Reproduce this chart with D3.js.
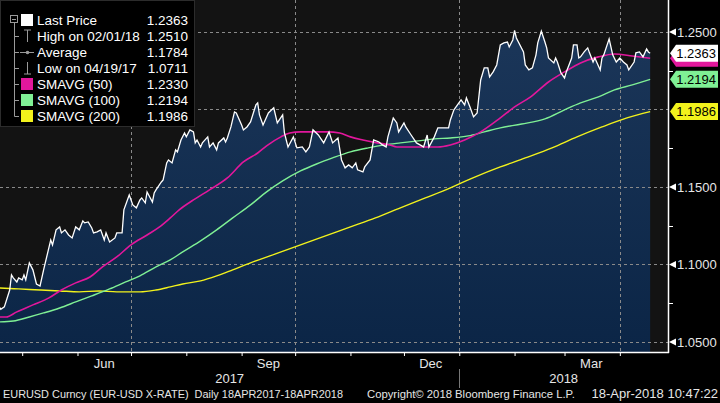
<!DOCTYPE html>
<html>
<head>
<meta charset="utf-8">
<script src="https://cdnjs.cloudflare.com/ajax/libs/d3/7.8.5/d3.min.js"></script>
<style>
  html, body { margin: 0; padding: 0; background: #000; }
  svg { display: block; font-family: "Liberation Sans", Arial, sans-serif; }
</style>
</head>
<body>
<svg id="chart" width="720" height="403"></svg>
<script>
// EURUSD daily closes
const lastPrice = [
  ["2017-04-18",1.0730],["2017-04-19",1.0711],["2017-04-21",1.0726],["2017-04-24",1.0835],["2017-04-25",1.0932],
  ["2017-04-26",1.0913],["2017-04-28",1.0887],["2017-04-29",1.0913],["2017-05-01",1.0900],["2017-05-02",1.0932],
  ["2017-05-03",1.0900],["2017-05-05",1.1010],["2017-05-07",1.0965],["2017-05-09",1.0874],["2017-05-11",1.0861],
  ["2017-05-13",1.0965],["2017-05-17",1.1158],["2017-05-18",1.1126],["2017-05-20",1.1223],["2017-05-22",1.1242],
  ["2017-05-23",1.1203],["2017-05-25",1.1223],["2017-05-27",1.1190],["2017-05-29",1.1171],["2017-05-31",1.1242],
  ["2017-06-02",1.1223],["2017-06-04",1.1281],["2017-06-05",1.1268],["2017-06-07",1.1274],["2017-06-09",1.1235],
  ["2017-06-10",1.1203],["2017-06-12",1.1210],["2017-06-14",1.1223],["2017-06-16",1.1158],["2017-06-17",1.1203],
  ["2017-06-19",1.1145],["2017-06-22",1.1171],["2017-06-23",1.1203],["2017-06-26",1.1203],["2017-06-27",1.1352],
  ["2017-06-30",1.1448],["2017-07-02",1.1384],["2017-07-04",1.1365],["2017-07-06",1.1416],["2017-07-07",1.1429],
  ["2017-07-09",1.1397],["2017-07-10",1.1468],["2017-07-13",1.1403],["2017-07-14",1.1461],["2017-07-15",1.1481],
  ["2017-07-18",1.1532],["2017-07-19",1.1545],["2017-07-21",1.1655],["2017-07-22",1.1674],["2017-07-24",1.1655],
  ["2017-07-26",1.1739],["2017-07-27",1.1726],["2017-07-29",1.1803],["2017-07-31",1.1848],["2017-08-01",1.1823],
  ["2017-08-03",1.1868],["2017-08-05",1.1855],["2017-08-06",1.1784],["2017-08-07",1.1803],["2017-08-09",1.1758],
  ["2017-08-10",1.1784],["2017-08-13",1.1823],["2017-08-14",1.1758],["2017-08-16",1.1784],["2017-08-18",1.1739],
  ["2017-08-19",1.1784],["2017-08-22",1.1816],["2017-08-23",1.1790],["2017-08-24",1.1816],["2017-08-26",1.1887],
  ["2017-08-28",1.1984],["2017-08-29",1.1977],["2017-09-01",1.1900],["2017-09-02",1.1868],["2017-09-04",1.1887],
  ["2017-09-06",1.1919],["2017-09-09",1.2029],["2017-09-10",1.2042],["2017-09-11",1.1965],["2017-09-13",1.1900],
  ["2017-09-16",1.1977],["2017-09-19",1.2010],["2017-09-21",1.1913],["2017-09-24",1.1965],["2017-09-25",1.1848],
  ["2017-09-27",1.1758],["2017-09-30",1.1823],["2017-10-02",1.1752],["2017-10-05",1.1758],["2017-10-07",1.1726],
  ["2017-10-09",1.1758],["2017-10-11",1.1868],["2017-10-14",1.1835],["2017-10-17",1.1784],["2017-10-20",1.1855],
  ["2017-10-22",1.1784],["2017-10-25",1.1816],["2017-10-27",1.1674],["2017-10-29",1.1623],["2017-10-31",1.1642],
  ["2017-11-02",1.1623],["2017-11-04",1.1655],["2017-11-05",1.1610],["2017-11-08",1.1597],["2017-11-09",1.1629],
  ["2017-11-12",1.1674],["2017-11-14",1.1803],["2017-11-17",1.1790],["2017-11-19",1.1771],["2017-11-21",1.1758],
  ["2017-11-22",1.1823],["2017-11-25",1.1945],["2017-11-27",1.1913],["2017-11-28",1.1855],["2017-12-01",1.1913],
  ["2017-12-02",1.1887],["2017-12-05",1.1835],["2017-12-08",1.1784],["2017-12-10",1.1771],["2017-12-12",1.1758],
  ["2017-12-14",1.1835],["2017-12-15",1.1758],["2017-12-18",1.1823],["2017-12-20",1.1881],["2017-12-23",1.1881],
  ["2017-12-26",1.1881],["2017-12-27",1.1932],["2017-12-29",1.1997],["2017-12-31",1.2029],["2018-01-02",1.2061],
  ["2018-01-04",1.2029],["2018-01-05",1.2074],["2018-01-07",1.2016],["2018-01-09",1.1952],["2018-01-11",1.1977],
  ["2018-01-13",1.2190],["2018-01-15",1.2268],["2018-01-17",1.2268],["2018-01-18",1.2210],["2018-01-20",1.2242],
  ["2018-01-22",1.2287],["2018-01-24",1.2416],["2018-01-26",1.2429],["2018-01-28",1.2435],["2018-01-29",1.2403],
  ["2018-01-31",1.2448],["2018-02-01",1.2510],["2018-02-02",1.2461],["2018-02-06",1.2371],["2018-02-07",1.2287],
  ["2018-02-09",1.2255],["2018-02-11",1.2268],["2018-02-13",1.2352],["2018-02-14",1.2429],["2018-02-16",1.2505],
  ["2018-02-18",1.2435],["2018-02-19",1.2397],["2018-02-20",1.2332],["2018-02-23",1.2300],["2018-02-24",1.2332],
  ["2018-02-25",1.2306],["2018-02-27",1.2235],["2018-03-01",1.2203],["2018-03-02",1.2242],["2018-03-05",1.2332],
  ["2018-03-06",1.2416],["2018-03-08",1.2416],["2018-03-09",1.2332],["2018-03-10",1.2339],["2018-03-12",1.2371],
  ["2018-03-14",1.2397],["2018-03-15",1.2365],["2018-03-17",1.2306],["2018-03-18",1.2332],["2018-03-19",1.2306],
  ["2018-03-21",1.2255],["2018-03-22",1.2332],["2018-03-23",1.2352],["2018-03-26",1.2455],["2018-03-28",1.2352],
  ["2018-03-30",1.2306],["2018-04-01",1.2332],["2018-04-03",1.2306],["2018-04-05",1.2287],["2018-04-06",1.2255],
  ["2018-04-09",1.2306],["2018-04-10",1.2365],["2018-04-12",1.2371],["2018-04-14",1.2339],["2018-04-16",1.2390],
  ["2018-04-17",1.2371],["2018-04-18",1.2363]
];

const smavg50 = [
  ["2017-04-18",1.0661],["2017-04-22",1.0661],["2017-04-28",1.0694],["2017-05-07",1.0739],["2017-05-16",1.0784],
  ["2017-05-23",1.0835],["2017-05-31",1.0881],["2017-06-08",1.0919],["2017-06-15",1.0984],["2017-06-23",1.1048],
  ["2017-07-01",1.1126],["2017-07-10",1.1190],["2017-07-17",1.1242],["2017-07-23",1.1300],["2017-07-28",1.1352],
  ["2017-08-05",1.1416],["2017-08-14",1.1481],["2017-08-24",1.1558],["2017-09-02",1.1661],["2017-09-10",1.1719],
  ["2017-09-15",1.1765],["2017-09-23",1.1823],["2017-09-28",1.1848],["2017-10-04",1.1855],["2017-10-19",1.1855],
  ["2017-10-26",1.1848],["2017-11-01",1.1823],["2017-11-08",1.1803],["2017-11-16",1.1784],["2017-11-23",1.1771],
  ["2017-11-27",1.1758],["2017-12-09",1.1758],["2017-12-20",1.1758],["2017-12-27",1.1771],["2018-01-04",1.1803],
  ["2018-01-13",1.1855],["2018-01-24",1.1945],["2018-02-01",1.2016],["2018-02-10",1.2081],["2018-02-20",1.2177],
  ["2018-03-01",1.2242],["2018-03-10",1.2300],["2018-03-20",1.2339],["2018-03-29",1.2358],["2018-04-08",1.2345],
  ["2018-04-18",1.2330]
];

const smavg100 = [
  ["2017-04-18",1.0629],["2017-04-26",1.0635],["2017-05-05",1.0661],["2017-05-13",1.0687],["2017-05-22",1.0719],
  ["2017-05-31",1.0758],["2017-06-09",1.0797],["2017-06-19",1.0842],["2017-06-28",1.0887],["2017-07-06",1.0926],
  ["2017-07-15",1.0984],["2017-07-23",1.1029],["2017-07-30",1.1081],["2017-08-09",1.1152],["2017-08-18",1.1223],
  ["2017-08-27",1.1300],["2017-09-06",1.1384],["2017-09-15",1.1468],["2017-09-24",1.1539],["2017-10-04",1.1603],
  ["2017-10-13",1.1648],["2017-10-22",1.1687],["2017-11-01",1.1726],["2017-11-11",1.1752],["2017-11-20",1.1771],
  ["2017-11-29",1.1784],["2017-12-09",1.1797],["2017-12-18",1.1810],["2017-12-27",1.1816],["2018-01-06",1.1829],
  ["2018-01-15",1.1855],["2018-01-24",1.1881],["2018-02-05",1.1906],["2018-02-18",1.1939],["2018-03-01",1.1997],
  ["2018-03-10",1.2042],["2018-03-20",1.2081],["2018-03-29",1.2126],["2018-04-08",1.2158],["2018-04-18",1.2194]
];

const smavg200 = [
  ["2017-04-18",1.0848],["2017-04-29",1.0842],["2017-05-11",1.0835],["2017-05-22",1.0829],["2017-06-02",1.0823],
  ["2017-06-13",1.0829],["2017-06-23",1.0823],["2017-07-06",1.0823],["2017-07-15",1.0835],["2017-07-23",1.0855],
  ["2017-07-30",1.0874],["2017-08-09",1.0894],["2017-08-18",1.0926],["2017-08-27",1.0965],["2017-09-06",1.1010],
  ["2017-09-20",1.1068],["2017-10-04",1.1126],["2017-10-18",1.1184],["2017-11-01",1.1242],["2017-11-15",1.1300],
  ["2017-11-29",1.1365],["2017-12-13",1.1429],["2017-12-27",1.1494],["2018-01-10",1.1565],["2018-01-24",1.1629],
  ["2018-02-07",1.1687],["2018-02-22",1.1752],["2018-03-08",1.1823],["2018-03-22",1.1887],["2018-04-05",1.1945],
  ["2018-04-18",1.1986]
];

const gridValues = [1.05, 1.10, 1.15, 1.20, 1.25];
const labelValues = [1.05, 1.10, 1.15, 1.25];
const minorValues = [1.075, 1.125, 1.175, 1.225];
const gridMonths = ["2017-07-01", "2017-10-01", "2018-01-01", "2018-04-01"];
const monthLabels = [["Jun", "2017-06-16"], ["Sep", "2017-09-16"], ["Dec", "2017-12-16"], ["Mar", "2018-03-16"]];
const yearLabels = ["2017", "2018"];

const legendLabels = ["Last Price", "High on 02/01/18", "Average", "Low on 04/19/17", "SMAVG (50)", "SMAVG (100)", "SMAVG (200)"];
const legendValues = ["1.2363", "1.2510", "1.1784", "1.0711", "1.2330", "1.2194", "1.1986"];
const footerLeft = "EURUSD Curncy (EUR-USD X-RATE)  Daily 18APR2017-18APR2018";
const footerMid = "Copyright\u00A9 2018 Bloomberg Finance L.P.";
const footerRight = "18-Apr-2018 10:47:22";

const colors = { price: "#ffffff", s50: "#e2179c", s100: "#7ff095", s200: "#f2f21c" };

const parse = d3.timeParse("%Y-%m-%d");
const toPts = arr => arr.map(d => ({ date: parse(d[0]), value: d[1] }));
const price = toPts(lastPrice), ma50 = toPts(smavg50), ma100 = toPts(smavg100), ma200 = toPts(smavg200);

const W = 668, H = 352;
const svg = d3.select("#chart");

const x = d3.scaleTime().domain([parse("2017-04-18"), parse("2018-04-28")]).range([-1, W]);
const y = d3.scaleLinear().domain([1.0435, 1.2706]).range([H, 0]);

// gradient for the price area
const defs = svg.append("defs");
const grad = defs.append("linearGradient").attr("id", "fillGrad")
  .attr("x1", 0).attr("y1", 0).attr("x2", 0).attr("y2", 1);
grad.append("stop").attr("offset", "0%").attr("stop-color", "#1b3659");
grad.append("stop").attr("offset", "100%").attr("stop-color", "#0b2546");
defs.append("clipPath").attr("id", "plotClip").append("rect").attr("width", W).attr("height", H);

// plot background
svg.append("rect").attr("width", W).attr("height", H).attr("fill", "#131313");

const plot = svg.append("g").attr("clip-path", "url(#plotClip)");

const area = d3.area().x(d => x(d.date)).y0(H).y1(d => y(d.value));
plot.append("path").datum(price).attr("d", area).attr("fill", "url(#fillGrad)");

// dashed grid
plot.selectAll(".hgrid").data(gridValues).join("line")
  .attr("x1", 0).attr("x2", W)
  .attr("y1", d => Math.round(y(d)) + 0.5).attr("y2", d => Math.round(y(d)) + 0.5)
  .attr("stroke", "#8a8a8a").attr("stroke-width", 1).attr("stroke-dasharray", "3,3");
plot.selectAll(".vgrid").data(gridMonths).join("line")
  .attr("x1", d => Math.round(x(parse(d))) + 0.5).attr("x2", d => Math.round(x(parse(d))) + 0.5)
  .attr("y1", 0).attr("y2", H)
  .attr("stroke", "#8a8a8a").attr("stroke-width", 1).attr("stroke-dasharray", "3,3");

const smooth = d3.line().x(d => x(d.date)).y(d => y(d.value)).curve(d3.curveMonotoneX);
const straight = d3.line().x(d => x(d.date)).y(d => y(d.value));

plot.append("path").datum(ma200).attr("d", smooth).attr("fill", "none").attr("stroke", colors.s200).attr("stroke-width", 1.4);
plot.append("path").datum(ma100).attr("d", smooth).attr("fill", "none").attr("stroke", colors.s100).attr("stroke-width", 1.4);
plot.append("path").datum(ma50).attr("d", smooth).attr("fill", "none").attr("stroke", colors.s50).attr("stroke-width", 1.6);
plot.append("path").datum(price).attr("d", straight).attr("fill", "none").attr("stroke", colors.price).attr("stroke-width", 1.3);

// legend
const lg = svg.append("g");
lg.append("rect").attr("x", 0.5).attr("y", 0.5).attr("width", 194).attr("height", 126)
  .attr("fill", "#000").attr("stroke", "#2c2c2c");
const rowY = i => 20 + i * 16;
const treeC = "#9a9a9a";
lg.append("rect").attr("x", 10.5).attr("y", 15.5).attr("width", 7).attr("height", 7)
  .attr("fill", "none").attr("stroke", treeC);
lg.append("line").attr("x1", 12).attr("x2", 16).attr("y1", 19.5).attr("y2", 19.5).attr("stroke", treeC);
lg.append("line").attr("x1", 14.5).attr("x2", 14.5).attr("y1", 23).attr("y2", rowY(6) + 0.5).attr("stroke", treeC);
lg.selectAll(".conn").data(d3.range(1, 7)).join("line")
  .attr("x1", 14.5).attr("x2", 19).attr("y1", d => rowY(d) + 0.5).attr("y2", d => rowY(d) + 0.5)
  .attr("stroke", treeC);

const swatchColors = [colors.price, null, null, null, colors.s50, colors.s100, colors.s200];
lg.selectAll(".sw").data(swatchColors.map((c, i) => ({ c, i })).filter(d => d.c)).join("rect")
  .attr("x", 21).attr("y", d => rowY(d.i) - 6).attr("width", 12).attr("height", 12).attr("fill", d => d.c);

// high / average / low markers
lg.append("path").attr("d", `M24,${rowY(1) - 6}H31M27.5,${rowY(1) - 6}V${rowY(1) + 6}`).attr("stroke", treeC).attr("fill", "none");
lg.append("path").attr("d", `M20,${rowY(2) + 0.5}H34`).attr("stroke", treeC);
lg.append("circle").attr("cx", 27.5).attr("cy", rowY(2) + 0.5).attr("r", 1.8).attr("fill", treeC);
lg.append("path").attr("d", `M24,${rowY(3) + 6}H31M27.5,${rowY(3) - 6}V${rowY(3) + 6}`).attr("stroke", treeC).attr("fill", "none");

lg.selectAll(".lt").data(legendLabels).join("text")
  .attr("x", 37).attr("y", (d, i) => rowY(i)).attr("dy", "0.36em")
  .attr("fill", "#fff").attr("font-size", 13.5).text(d => d);
lg.selectAll(".lv").data(legendValues).join("text")
  .attr("x", 188).attr("y", (d, i) => rowY(i)).attr("dy", "0.36em").attr("text-anchor", "end")
  .attr("fill", "#fff").attr("font-size", 13.5).text(d => d);

// right axis
svg.append("line").attr("x1", W + 0.5).attr("x2", W + 0.5).attr("y1", 0).attr("y2", H + 1)
  .attr("stroke", "#fff").attr("stroke-width", 1.5);
const yAxis = svg.append("g").attr("transform", `translate(${W + 9},0)`)
  .call(d3.axisRight(y).tickValues(labelValues).tickSize(0).tickPadding(0).tickFormat(d3.format(".4f")));
yAxis.select(".domain").remove();
yAxis.selectAll("text").attr("fill", "#e6e6e6").attr("font-size", 13)
  .attr("font-family", "Liberation Sans, Arial, sans-serif");
svg.selectAll(".ytri").data(labelValues).join("path")
  .attr("d", d => `M${W + 1},${y(d)}L${W + 8},${y(d) - 3.5}L${W + 8},${y(d) + 3.5}Z`).attr("fill", "#fff");
svg.selectAll(".ymin").data(minorValues).join("line")
  .attr("x1", W).attr("x2", W + 5).attr("y1", d => Math.round(y(d)) + 0.5).attr("y2", d => Math.round(y(d)) + 0.5)
  .attr("stroke", "#fff");

// last value tags (the SMA 50 tag sits behind the price tag, its label hidden)
const tags = [
  { v: ma50[ma50.length - 1].value, bg: colors.s50, label: false },
  { v: price[price.length - 1].value, bg: "#ffffff", label: true },
  { v: ma100[ma100.length - 1].value, bg: colors.s100, label: true },
  { v: ma200[ma200.length - 1].value, bg: colors.s200, label: true }
];
const tg = svg.selectAll(".tag").data(tags).join("g").attr("transform", d => `translate(0,${y(d.v)})`);
tg.append("path").attr("d", `M${W + 2},0L${W + 8},-8.5H718V8.5H${W + 8}Z`).attr("fill", d => d.bg);
tg.filter(d => d.label).append("text").attr("x", 716).attr("dy", "0.36em").attr("text-anchor", "end")
  .attr("font-size", 13).attr("fill", "#000").text(d => d3.format(".4f")(d.v));

// bottom axis
svg.append("line").attr("x1", 0).attr("x2", W + 1).attr("y1", H + 0.5).attr("y2", H + 0.5)
  .attr("stroke", "#fff").attr("stroke-width", 1.5);
const xAxis = svg.append("g").attr("transform", `translate(0,${H})`)
  .call(d3.axisBottom(x).ticks(d3.timeMonth.every(1)).tickSize(4).tickFormat(""));
xAxis.select(".domain").remove();
xAxis.selectAll("line").attr("stroke", "#fff");

svg.selectAll(".mlab").data(monthLabels).join("text")
  .attr("x", d => x(parse(d[1]))).attr("y", 368).attr("text-anchor", "middle")
  .attr("fill", "#e6e6e6").attr("font-size", 13).text(d => d[0]);

const yearSplit = x(parse("2018-01-01"));
const yearSpans = [[0, yearSplit], [yearSplit, W]];
svg.selectAll(".ylab").data(yearLabels).join("text")
  .attr("x", (d, i) => (yearSpans[i][0] + yearSpans[i][1]) / 2).attr("y", 383).attr("text-anchor", "middle")
  .attr("fill", "#e6e6e6").attr("font-size", 13).text(d => d);
svg.append("line").attr("x1", Math.round(yearSplit) + 0.5).attr("x2", Math.round(yearSplit) + 0.5)
  .attr("y1", 369).attr("y2", 388).attr("stroke", "#777");

// footer
svg.append("text").attr("x", 3).attr("y", 398).attr("fill", "#e6e6e6").attr("font-size", 10.9)
  .style("white-space", "pre").text(footerLeft);
svg.append("text").attr("x", 367).attr("y", 398).attr("fill", "#e6e6e6").attr("font-size", 11.3).text(footerMid);
svg.append("text").attr("x", 718).attr("y", 398).attr("text-anchor", "end").attr("fill", "#e6e6e6")
  .attr("font-size", 13).text(footerRight);
</script>
</body>
</html>
